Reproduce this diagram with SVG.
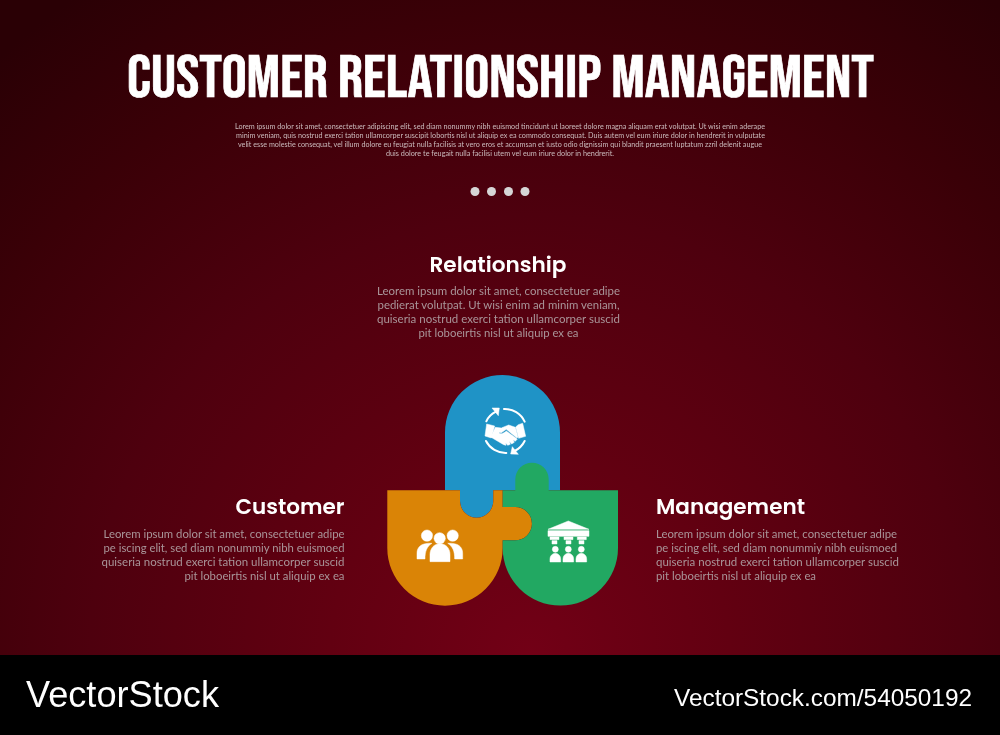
<svg xmlns="http://www.w3.org/2000/svg" width="1000" height="735" viewBox="0 0 1000 735">
<style>
.t{filter:url(#soft)}
.b{font-family:"Lato","Open Sans","Liberation Sans",sans-serif;font-size:11.5px;fill:#a99599}
.s{font-family:"Lato","Open Sans","Liberation Sans",sans-serif;font-size:7px;fill:#cbbcbe;text-anchor:middle}
.h{font-family:"Poppins","Inter","Open Sans","Liberation Sans",sans-serif;font-size:21px;font-weight:600;fill:#fff}
.w{fill:#fff;stroke:#fff;stroke-width:1.5;stroke-linejoin:round}
.l{fill:none;stroke:#fff;stroke-width:6;stroke-linecap:round}
.vs{font-family:"Liberation Sans",sans-serif;fill:#fff}
</style>
<defs>
<filter id="soft" filterUnits="userSpaceOnUse" x="0" y="0" width="1000" height="735"><feGaussianBlur stdDeviation=".25"/></filter>
<radialGradient id="bg" gradientUnits="userSpaceOnUse" cx="530" cy="655" r="800">
<stop offset="0" stop-color="#720016"/>
<stop offset=".25" stop-color="#620011"/>
<stop offset=".55" stop-color="#4e000e"/>
<stop offset=".8" stop-color="#3a0007"/>
<stop offset="1" stop-color="#2a0005"/>
</radialGradient>
</defs>
<rect width="1000" height="655" fill="url(#bg)"/>
<rect y="655" width="1000" height="80" fill="#000"/>

<g id="header" class="t">
<text x="500.5" y="97" text-anchor="middle" textLength="747" lengthAdjust="spacingAndGlyphs" font-family="'Bebas Neue','Oswald','Roboto Condensed','Liberation Sans',sans-serif" font-weight="400" font-size="60" fill="#fff" stroke="#fff" stroke-width=".7">CUSTOMER RELATIONSHIP MANAGEMENT</text>
<text class="s" x="500" y="129" textLength="530" lengthAdjust="spacingAndGlyphs">Lorem ipsum dolor sit amet, consectetuer adipiscing elit, sed diam nonummy nibh euismod tincidunt ut laoreet dolore magna aliquam erat volutpat. Ut wisi enim aderape</text>
<text class="s" x="500.5" y="137.5" textLength="529" lengthAdjust="spacingAndGlyphs">minim veniam, quis nostrud exerci tation ullamcorper suscipit lobortis nisl ut aliquip ex ea commodo consequat. Duis autem vel eum iriure dolor in hendrerit in vulputate</text>
<text class="s" x="500" y="146.5" textLength="524" lengthAdjust="spacingAndGlyphs">velit esse molestie consequat, vel illum dolore eu feugiat nulla facilisis at vero eros et accumsan et iusto odio dignissim qui blandit praesent luptatum zzril delenit augue</text>
<text class="s" x="500" y="155.5" textLength="228" lengthAdjust="spacingAndGlyphs">duis dolore te feugait nulla facilisi utem vel eum iriure dolor in hendrerit.</text>
<g fill="#d6d6d6"><circle cx="475" cy="191.5" r="4.5"/><circle cx="491.5" cy="191.5" r="4.5"/><circle cx="508.5" cy="191.5" r="4.5"/><circle cx="525" cy="191.5" r="4.5"/></g>
</g>

<g id="relationship-label" class="t">
<text class="h" x="498" y="271.5" text-anchor="middle" textLength="137" lengthAdjust="spacingAndGlyphs">Relationship</text>
<g class="b" text-anchor="middle">
<text x="498.5" y="295" textLength="243" lengthAdjust="spacingAndGlyphs">Leorem ipsum dolor sit amet, consectetuer adipe</text>
<text x="498.5" y="309" textLength="242" lengthAdjust="spacingAndGlyphs">pedierat volutpat. Ut wisi enim ad minim veniam,</text>
<text x="498.5" y="323" textLength="243" lengthAdjust="spacingAndGlyphs">quiseria nostrud exerci tation ullamcorper suscid</text>
<text x="498.5" y="337" textLength="160" lengthAdjust="spacingAndGlyphs">pit loboeirtis nisl ut aliquip ex ea</text>
</g>
</g>

<g id="customer-label" class="t">
<text class="h" x="344.5" y="514" text-anchor="end" textLength="109" lengthAdjust="spacingAndGlyphs">Customer</text>
<g class="b" text-anchor="end">
<text x="344.5" y="538" textLength="241" lengthAdjust="spacingAndGlyphs">Leorem ipsum dolor sit amet, consectetuer adipe</text>
<text x="344.5" y="552" textLength="241" lengthAdjust="spacingAndGlyphs">pe iscing elit, sed diam nonummiy nibh euismoed</text>
<text x="344.5" y="566" textLength="243" lengthAdjust="spacingAndGlyphs">quiseria nostrud exerci tation ullamcorper suscid</text>
<text x="344.5" y="580" textLength="160" lengthAdjust="spacingAndGlyphs">pit loboeirtis nisl ut aliquip ex ea</text>
</g>
</g>

<g id="management-label" class="t">
<text class="h" x="656" y="514" textLength="149" lengthAdjust="spacingAndGlyphs">Management</text>
<g class="b">
<text x="656" y="538" textLength="241" lengthAdjust="spacingAndGlyphs">Leorem ipsum dolor sit amet, consectetuer adipe</text>
<text x="656" y="552" textLength="241" lengthAdjust="spacingAndGlyphs">pe iscing elit, sed diam nonummiy nibh euismoed</text>
<text x="656" y="566" textLength="243" lengthAdjust="spacingAndGlyphs">quiseria nostrud exerci tation ullamcorper suscid</text>
<text x="656" y="580" textLength="160" lengthAdjust="spacingAndGlyphs">pit loboeirtis nisl ut aliquip ex ea</text>
</g>
</g>

<g id="connectors"></g>

<g id="node-relationship">
<path fill="#1f93c6" d="M445 490.3V432.5A57.5 57.5 0 0 1 560 432.5V490.3H493.3V501A16.65 16.65 0 0 1 460 501V490.3Z"/>
<g transform="translate(370 365) scale(.3333)">
<path class="l" d="M349 169A60 60 0 0 1 378 140"/>
<path class="w" d="M366 129L388 129L385 152Z"/>
<path class="l" d="M402 132A66 66 0 0 1 464 170"/>
<path class="l" d="M348 228A66 66 0 0 0 409 264"/>
<path class="l" d="M464 228A66 66 0 0 1 434 258"/>
<path class="w" d="M445 268L422 267L427 245Z"/>
<path class="w" d="M350 177L374 183L364 219L345 213Z"/>
<path class="w" d="M445 179L458 175L467 214L446 220L437 186Z"/>
<path class="w" d="M376 187L401 190L387 204C394 209 402 204 409 198L442 222L436 229L429 224L433 232L425 237L418 229L421 238L413 241L407 234L408 241L401 239L362 216Z"/>
<path class="w" d="M396 188L416 180L436 187L444 216L441 219L409 193L393 204L389 201Z"/>
</g>
</g>

<g id="node-customer">
<path fill="#da8406" d="M387.3 490.3H460V501A16.65 16.65 0 0 0 493.3 501V490.3H502.7V507H515.3A16.65 16.65 0 0 1 515.3 540.3H502.7V548A57.7 57.7 0 0 1 387.3 548Z"/>
<g transform="translate(370 365) scale(.3333)">
<circle class="w" cx="171" cy="512" r="17"/>
<circle class="w" cx="248" cy="512" r="17"/>
<path class="w" d="M141 582V565C141 545 155 533 186 535C170 545 165 560 165 582Z"/>
<path class="w" d="M278 582V565C278 545 264 533 233 535C249 545 254 560 254 582Z"/>
<circle fill="#da8406" cx="209" cy="520" r="21"/>
<path fill="#da8406" d="M173 596V568C173 545 190 529 210 529C230 529 246 545 246 568V596Z"/>
<circle class="w" cx="209" cy="520" r="17"/>
<path class="w" d="M180 590V568C180 550 193 536 210 536C227 536 240 550 240 568V590Z"/>
</g>
</g>

<g id="node-management">
<path fill="#22a862" d="M502.7 490.3H515.3V479.4A16.7 16.7 0 0 1 548.7 479.4V490.3H618V548A57.65 57.65 0 0 1 502.7 548V540.3H515.3A16.65 16.65 0 0 0 515.3 507H502.7Z"/>
<g transform="translate(370 365) scale(.3333)">
<path class="w" d="M534 493L595 468L657 493Z"/>
<rect class="w" x="534" y="497" width="123" height="17"/>
<g class="w">
<rect x="540" y="516" width="27" height="8"/><rect x="546" y="527" width="15" height="10"/>
<rect x="582" y="516" width="27" height="8"/><rect x="588" y="527" width="15" height="10"/>
<rect x="622" y="516" width="27" height="8"/><rect x="627" y="527" width="15" height="10"/>
</g>
<circle class="w" cx="556" cy="553" r="9"/><circle class="w" cx="595" cy="553" r="9"/><circle class="w" cx="634" cy="553" r="9"/>
<path class="w" d="M540 591V582A16 17 0 0 1 572 582V591Z"/>
<path class="w" d="M579 591V582A16 17 0 0 1 611 582V591Z"/>
<path class="w" d="M618 591V582A16 17 0 0 1 650 582V591Z"/>
</g>
</g>

<g id="watermark" class="t">
<text class="vs" x="26" y="706.5" font-size="36" textLength="193" lengthAdjust="spacingAndGlyphs">VectorStock</text>
<text class="vs" x="674" y="705.5" font-size="24" textLength="298" lengthAdjust="spacingAndGlyphs">VectorStock.com/54050192</text>
</g>
</svg>
